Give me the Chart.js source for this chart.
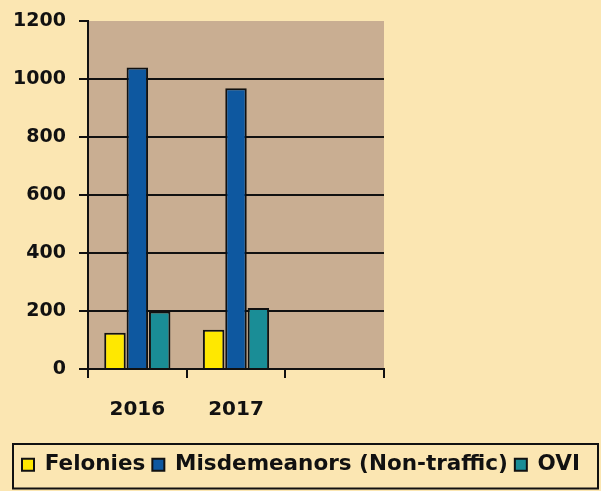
<!DOCTYPE html>
<html>
<head>
<meta charset="utf-8">
<script src="https://cdn.jsdelivr.net/npm/chart.js@4.4.1/dist/chart.umd.min.js"></script>
<style>
  html, body { margin: 0; padding: 0; background: #fbe6b2; }
  #wrap { width: 601px; height: 491px; position: relative; }
</style>
</head>
<body>
<div id="wrap"><canvas id="myChart"></canvas></div>
<script>
const years = ["2016", "2017", ""];
const felonies = [125, 135, null];
const misdemeanors = [1040, 968, null];
const ovi = [198, 210, null];
const yTicks = [0, 200, 400, 600, 800, 1000, 1200];

const plotBg = {
    id: "plotBg",
    beforeDraw(chart) {
        const a = chart.chartArea;
        const ctx = chart.ctx;
        ctx.save();
        ctx.fillStyle = "#c9ae92";
        ctx.fillRect(a.left, a.top, a.right - a.left, a.bottom - a.top);
        ctx.restore();
    }
};

const legendBorder = {
    id: "legendBorder",
    afterDraw(chart) {
        const l = chart.legend;
        const ctx = chart.ctx;
        ctx.save();
        ctx.strokeStyle = "#111";
        ctx.lineWidth = 2;
        ctx.strokeRect(l.left - 2, l.top - 3, l.width - 1, l.height + 6);
        ctx.restore();
    }
};

Chart.defaults.font.family = "'DejaVu Sans'";
Chart.defaults.font.weight = "bold";
Chart.defaults.color = "#111";

const data = {
    labels: years,
    datasets: [
        { label: "Felonies", data: felonies, backgroundColor: "#ffe800" },
        { label: "Misdemeanors (Non-traffic)", data: misdemeanors, backgroundColor: "#0e58a0" },
        { label: "OVI", data: ovi, backgroundColor: "#1a8d96" }
    ]
};

const config = {
    type: "bar",
    data: data,
    options: {
        responsive: true,
        maintainAspectRatio: false,
        animation: false,
        layout: { padding: { left: 15, top: 21, right: 0, bottom: 5.5 } },
        datasets: {
            bar: {
                categoryPercentage: 0.68,
                barPercentage: 0.96,
                borderColor: "#111",
                borderWidth: 2
            }
        },
        plugins: {
            tooltip: { enabled: false },
            legend: {
                position: "bottom",
                align: "start",
                labels: {
                    boxWidth: 12,
                    boxHeight: 12,
                    padding: 7,
                    color: "#111",
                    font: { size: 21.5, weight: "bold" }
                }
            }
        },
        scales: {
            x: {
                grid: {
                    drawOnChartArea: false,
                    tickColor: "#111",
                    tickLength: 9,
                    lineWidth: 2
                },
                border: { color: "#111", width: 2 },
                ticks: { padding: 20, font: { size: 20 } },
                afterFit(s) { s.height = 78; }
            },
            y: {
                min: 0,
                max: 1200,
                afterBuildTicks(s) { s.ticks = yTicks.map(v => ({ value: v })); },
                grid: {
                    color: ctx => (ctx.tick && ctx.tick.value === 1200 ? "rgba(0,0,0,0)" : "#111"),
                    tickColor: "#111",
                    tickLength: 9,
                    lineWidth: 2
                },
                border: { color: "#111", width: 2 },
                ticks: { padding: 13, font: { size: 19 }, callback: v => String(v) },
                afterFit(s) {
                    s.width = 73;
                    s.paddingTop = 0;
                    s.paddingBottom = 0;
                }
            },
            pad: {
                type: "linear",
                position: "right",
                grid: { display: false },
                border: { display: false },
                ticks: { display: false },
                afterFit(s) {
                    s.width = 217;
                    s.paddingTop = 0;
                    s.paddingBottom = 0;
                }
            }
        }
    },
    plugins: [plotBg, legendBorder]
};

const myChart = new Chart(document.getElementById("myChart"), config);
</script>
</body>
</html>
